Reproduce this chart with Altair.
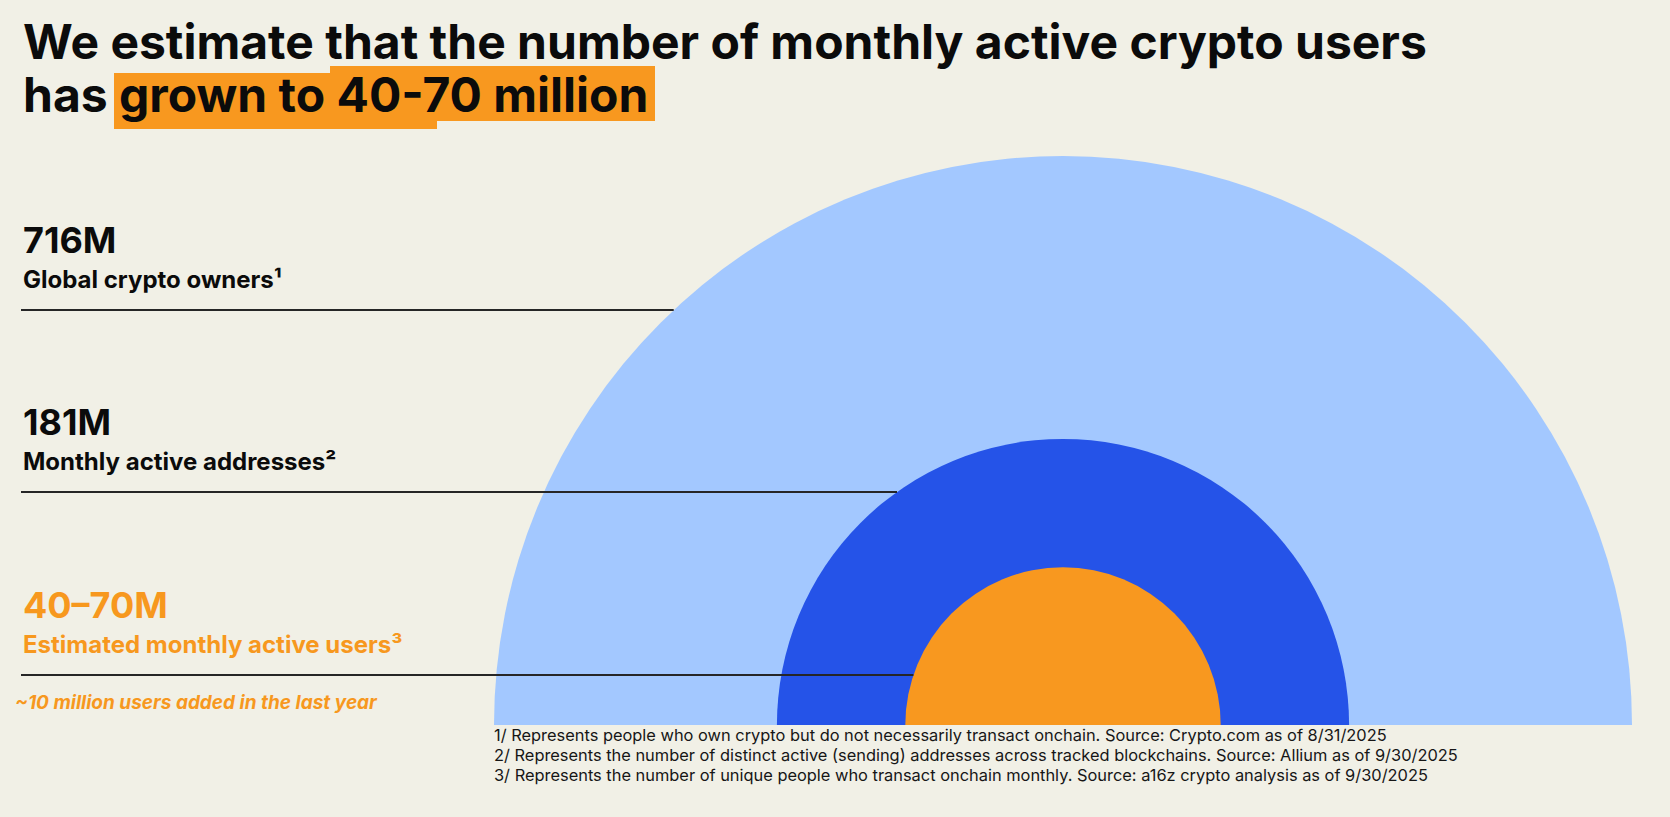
import math

import altair as alt
import pandas as pd

# Canvas
W, H = 1670, 817
BG = "#F1F0E6"

# Data: audience tiers, in millions (55 = midpoint of the 40–70M estimate)
tiers = ["Global crypto owners", "Monthly active addresses", "Estimated monthly active users"]
values_m = [716, 181, 55]
ring_colors = ["#A3C8FF", "#2553E8", "#F8981F"]

headlines = ["716M", "181M", "40–70M"]
sublabels = ["Global crypto owners¹", "Monthly active addresses²", "Estimated monthly active users³"]
label_colors = ["#0B0B0B", "#0B0B0B", "#F7981E"]

title_lines = ["We estimate that the number of monthly active crypto users",
               "has grown to 40-70 million"]
note = "~10 million users added in the last year"
footnotes = [
    "1/ Represents people who own crypto but do not necessarily transact onchain. Source: Crypto.com as of 8/31/2025",
    "2/ Represents the number of distinct active (sending) addresses across tracked blockchains. Source: Allium as of 9/30/2025",
    "3/ Represents the number of unique people who transact onchain monthly. Source: a16z crypto analysis as of 9/30/2025",
]

# Layout
CX, BASE, R_MAX = 1063, 725, 569
LEFT = 23
row_base = [253, 435, 618]       # baseline of each headline number
SUB_GAP, RULE_GAP = 35, 22


def radius(v):
    # area-proportional radius (matches the sqrt radius scale below)
    return R_MAX * math.sqrt(v / max(values_m))


rings = pd.DataFrame({"tier": tiers, "value": values_m, "color": ring_colors})

rows = []
for i, t in enumerate(tiers):
    y_rule = row_base[i] + SUB_GAP + RULE_GAP
    r = radius(values_m[i])
    dy = BASE - y_rule
    x_end = CX - math.sqrt(max(r * r - dy * dy, 0))
    rows.append({"tier": t, "head": headlines[i], "sub": sublabels[i],
                 "color": label_colors[i], "y_head": row_base[i],
                 "y_sub": row_base[i] + SUB_GAP, "y_rule": y_rule,
                 "x0": LEFT - 2, "x1": x_end})
labels = pd.DataFrame(rows)

px = lambda f: alt.X(f, type="quantitative", scale=None)
py = lambda f: alt.Y(f, type="quantitative", scale=None)

# Highlighter band behind the second title line
hl = pd.DataFrame({"x": [114, 330], "x2": [437, 655], "y": [73, 66], "y2": [129, 121]})
highlight = alt.Chart(hl).mark_rect(color="#F8981F").encode(
    x=px("x"), x2="x2", y=py("y"), y2="y2")

title_df = pd.DataFrame({"text": title_lines, "x": [LEFT, LEFT], "y": [59, 112]})
title = alt.Chart(title_df).mark_text(
    font="Inter", fontSize=48, fontWeight="bold", align="left", baseline="alphabetic",
    color="#0B0B0B").encode(x=px("x"), y=py("y"), text="text:N")

arcs = alt.Chart(rings).mark_arc(theta=3 * math.pi / 2, theta2=5 * math.pi / 2).encode(
    x=alt.value(CX), y=alt.value(BASE),
    radius=alt.Radius("value:Q", stack=None,
                      scale=alt.Scale(type="sqrt", domain=[0, max(values_m)], range=[0, R_MAX])),
    color=alt.Color("color:N", scale=None),
)

rules = alt.Chart(labels).mark_rule(color="#262626", strokeWidth=2).encode(
    x=px("x0"), x2="x1", y=py("y_rule"))

heads = alt.Chart(labels).mark_text(
    font="Inter", fontSize=36, fontWeight="bold", align="left", baseline="alphabetic").encode(
    x=alt.value(LEFT), y=py("y_head"), text="head:N", color=alt.Color("color:N", scale=None))

subs = alt.Chart(labels).mark_text(
    font="Inter", fontSize=24, fontWeight="bold", align="left", baseline="alphabetic").encode(
    x=alt.value(LEFT), y=py("y_sub"), text="sub:N", color=alt.Color("color:N", scale=None))

note_df = pd.DataFrame({"text": [note]})
note_mark = alt.Chart(note_df).mark_text(
    font="Inter", fontSize=19, fontWeight="bold", fontStyle="italic", align="left",
    baseline="alphabetic", color="#F7981E").encode(
    x=alt.value(15), y=alt.value(709), text="text:N")

foot_df = pd.DataFrame({"text": footnotes, "y": [741, 761, 781]})
foot = alt.Chart(foot_df).mark_text(
    font="Inter", fontSize=16.4, align="left", baseline="alphabetic", color="#161616").encode(
    x=alt.value(494), y=py("y"), text="text:N")

chart = alt.layer(highlight, title, arcs, rules, heads, subs, note_mark, foot).properties(
    width=W, height=H, padding=0, autosize="none", background=BG,
).configure_view(stroke=None)

chart.save("out.html", embed_options={"renderer": "svg", "actions": False})
